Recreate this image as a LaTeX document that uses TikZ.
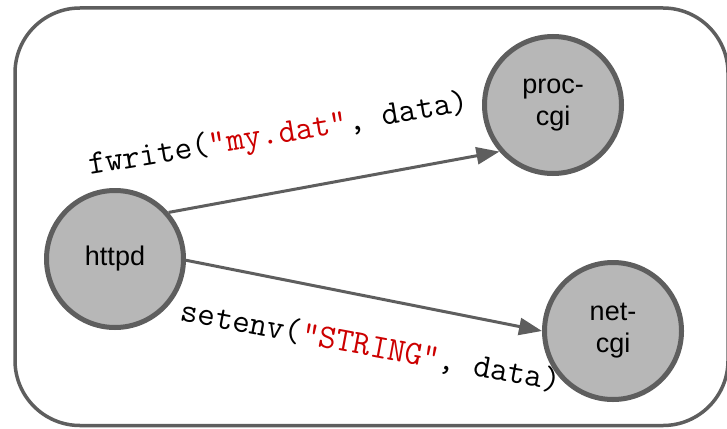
\documentclass[tikz,border=0pt]{standalone}
\usepackage{fontspec}
\setmainfont{Liberation Sans}
\usetikzlibrary{arrows.meta}
\definecolor{edgegray}{HTML}{5E5E5E}
\definecolor{procfill}{HTML}{B7B7B7}
\definecolor{strred}{HTML}{CC0000}
\tikzset{
  proc/.style={circle, draw=edgegray, fill=procfill, line width=5pt,
    minimum size=137pt, inner sep=0pt, align=center,
    font=\fontsize{27}{32}\selectfont},
  call/.style={draw=edgegray, line width=3pt,
    -{Triangle[length=23pt,width=17pt]}},
  code/.style={font=\ttfamily\fontsize{34}{37}\selectfont, anchor=base, inner sep=0pt},
}
\newcommand{\strlit}[1]{\textcolor{strred}{"#1"}}
\begin{document}
\begin{tikzpicture}[x=1pt,y=-1pt]
  \useasboundingbox (0,0) rectangle (727,428);
  % enclosing frame
  \draw[edgegray, line width=3.5pt, rounded corners=65pt] (15,8) rectangle (728,425.5);
  % processes
  \node[proc] (httpd) at (115,259) {httpd};
  \node[proc] (proc) at (553,105) {proc-\\cgi};
  \node[proc] (net) at (613,331) {net-\\cgi};
  % calls
  \draw[call] (httpd.41) -- (proc.221);
  \draw[call] (httpd.-1) -- (net.180);
  % call labels
  \node[code, rotate=9.5] (lblw) at (280,143) {fwrite(\strlit{my.dat}, data)};
  \node[code, rotate=-10.6] (lble) at (369,356) {setenv(\strlit{STRING}, data)};
\end{tikzpicture}
\end{document}
